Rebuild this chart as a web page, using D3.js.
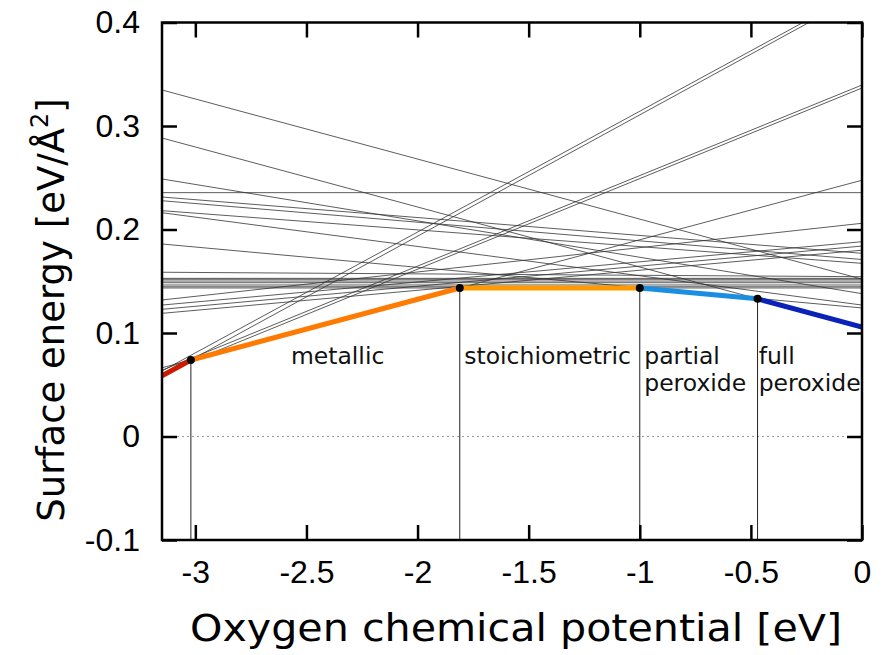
<!DOCTYPE html>
<html><head><meta charset="utf-8">
<script src="https://cdn.jsdelivr.net/npm/d3@7"></script>
<style>body{margin:0;background:#fff}</style>
</head><body>
<svg id="c" width="889" height="655"></svg>
<script>
// ---- data ----
const xDomain = [-3.15, 0];
const yDomain = [-0.1, 0.4];
const xTicks = [-3, -2.5, -2, -1.5, -1, -0.5, 0];
const xTickLabels = ["-3", "-2.5", "-2", "-1.5", "-1", "-0.5", "0"];
const yTicks = [-0.1, 0, 0.1, 0.2, 0.3, 0.4];
const yTickLabels = ["-0.1", "0", "0.1", "0.2", "0.3", "0.4"];
// thin lines: surface energy at mu = -3.15 and at mu = 0
const lineStart = [0.0587, 0.0633, 0.064, 0.061, 0.0664, 0.1435, 0.186, 0.2884, 0.3348,
  0.1447, 0.1464, 0.1486, 0.1502, 0.1519, 0.1528, 0.2356, 0.1587,
  0.2488, 0.2314, 0.2278, 0.2182, 0.2162, 0.1319, 0.127, 0.1229, 0.119];
const lineEnd = [0.428, 0.431, 0.3396, 0.3367, 0.2476, 0.1435, 0.1242, 0.1058, 0.152,
  0.1447, 0.1464, 0.1486, 0.1502, 0.1519, 0.1528, 0.2356, 0.1544,
  0.138, 0.177, 0.171, 0.1673, 0.127, 0.206, 0.1882, 0.184, 0.180];
// lowest envelope
const hullMu = [-3.15, -3.02, -1.81, -1.0, -0.47, 0];
const hullE = [0.0587, 0.0739, 0.1435, 0.1435, 0.133, 0.1058];
const hullColors = ["#cc1a00", "#ff7a00", "#ff9900", "#1a8ee0", "#0a22b8"];
const transitionMu = [-3.02, -1.81, -1.0, -0.47];
const phaseLabels = [["metallic"], ["stoichiometric"], ["partial", "peroxide"], ["full", "peroxide"]];
const phaseLabelMu = [-2.57, -1.79, -0.98, -0.465];

// ---- drawing ----
const svg = d3.select("#c");
const L = 162, R = 862, T = 22.5, B = 540;
const x = d3.scaleLinear().domain(xDomain).range([L, R]);
const y = d3.scaleLinear().domain(yDomain).range([B, T]);

svg.append("defs").append("clipPath").attr("id", "clip")
  .append("rect").attr("x", L).attr("y", T).attr("width", R - L).attr("height", B - T);

const plot = svg.append("g").attr("clip-path", "url(#clip)");

// zero line
plot.append("line").attr("x1", L).attr("x2", R).attr("y1", y(0)).attr("y2", y(0))
  .attr("stroke", "#999").attr("stroke-width", 1).attr("stroke-dasharray", "2,3");

// thin lines
const lines = lineStart.map((s, i) => [[xDomain[0], s], [xDomain[1], lineEnd[i]]]);
const lg = d3.line().x(d => x(d[0])).y(d => y(d[1]));
plot.selectAll("path.thin").data(lines).join("path").attr("class", "thin")
  .attr("d", lg).attr("fill", "none").attr("stroke", "#333").attr("stroke-width", 0.8);

// vertical transition lines
plot.selectAll("line.vt").data(transitionMu).join("line").attr("class", "vt")
  .attr("x1", d => x(d)).attr("x2", d => x(d))
  .attr("y1", (d, i) => y(hullE[i + 1])).attr("y2", B)
  .attr("stroke", "#222").attr("stroke-width", 1);

// hull segments
const segs = hullColors.map((c, i) => [[hullMu[i], hullE[i]], [hullMu[i + 1], hullE[i + 1]]]);
plot.selectAll("path.hull").data(segs).join("path").attr("class", "hull")
  .attr("d", lg).attr("fill", "none").attr("stroke", (d, i) => hullColors[i])
  .attr("stroke-width", 5).attr("stroke-linecap", "butt");

// dots
plot.selectAll("circle").data(transitionMu).join("circle")
  .attr("cx", d => x(d)).attr("cy", (d, i) => y(hullE[i + 1])).attr("r", 4).attr("fill", "#000");

// phase labels
phaseLabels.forEach((lines, i) => {
  lines.forEach((t, j) => {
    svg.append("text").attr("x", x(phaseLabelMu[i])).attr("y", 364 + j * 27)
      .attr("font-family", "DejaVu Sans").attr("font-size", 23.5).attr("fill", "#111").text(t);
  });
});

// axes frame
const ax = svg.append("g");
ax.append("g").attr("transform", `translate(0,${B})`)
  .call(d3.axisBottom(x).tickValues(xTicks).tickSize(-15).tickPadding(20).tickFormat((d, i) => xTickLabels[i]));
ax.append("g").attr("transform", `translate(0,${T})`)
  .call(d3.axisTop(x).tickValues(xTicks).tickSize(-15).tickFormat(""));
ax.append("g").attr("transform", `translate(${L},0)`)
  .call(d3.axisLeft(y).tickValues(yTicks).tickSize(-15).tickPadding(22).tickFormat((d, i) => yTickLabels[i]));
ax.append("g").attr("transform", `translate(${R},0)`)
  .call(d3.axisRight(y).tickValues(yTicks).tickSize(-15).tickFormat(""));
ax.selectAll(".domain").remove();
ax.selectAll(".tick line").attr("stroke", "#000").attr("stroke-width", 2.5);
ax.selectAll(".tick text").attr("font-family", "Liberation Sans, Arial, sans-serif")
  .attr("font-size", 32).attr("fill", "#000");
ax.append("rect").attr("x", L).attr("y", T).attr("width", R - L).attr("height", B - T)
  .attr("fill", "none").attr("stroke", "#000").attr("stroke-width", 2.5);

// axis titles
svg.append("text").attr("x", (L + R) / 2 + 4).attr("y", 641).attr("text-anchor", "middle")
  .attr("font-family", "DejaVu Sans").attr("font-size", 37)
  .attr("textLength", 652).attr("lengthAdjust", "spacingAndGlyphs")
  .text("Oxygen chemical potential [eV]");
const yt = svg.append("text").attr("transform", "translate(64,310) rotate(-90)")
  .attr("text-anchor", "middle").attr("font-family", "DejaVu Sans").attr("font-size", 37);
yt.append("tspan").text("Surface energy [eV/Å");
yt.append("tspan").attr("font-size", 24).attr("dy", -16).text("2");
yt.append("tspan").attr("dy", 16).text("]");
</script>
</body></html>
